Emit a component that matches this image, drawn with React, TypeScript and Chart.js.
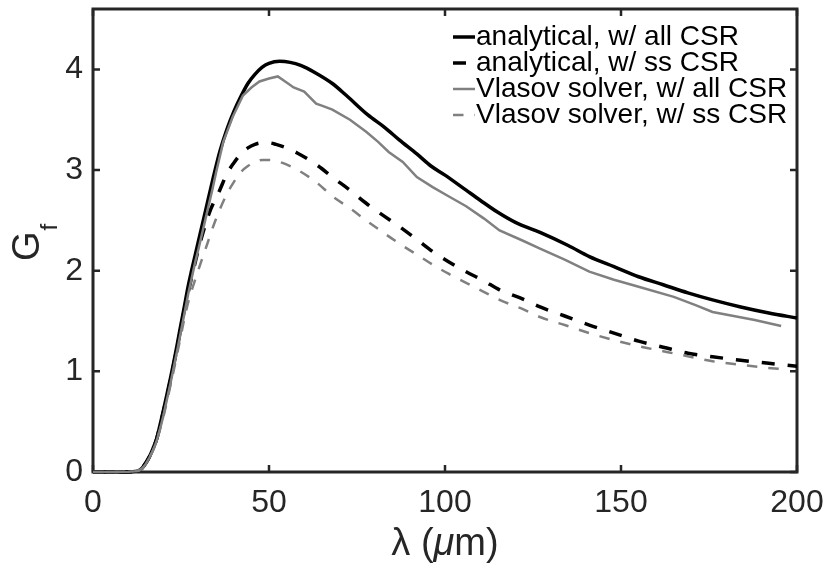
import React, { useEffect, useRef } from "react";
import { Chart, registerables } from "chart.js";

Chart.register(...registerables);

// ---- data ----
const X_TICKS = [0, 50, 100, 150, 200];
const Y_TICKS = [0, 1, 2, 3, 4];

const LABEL_A_ALL = "analytical, w/ all CSR";
const LABEL_A_SS = "analytical, w/ ss CSR";
const LABEL_V_ALL = "Vlasov solver, w/ all CSR";
const LABEL_V_SS = "Vlasov solver, w/ ss CSR";

const A_ALL_X = [0, 5, 10, 12, 13, 14, 15, 16, 17, 18, 19, 20, 21, 22, 23, 24, 25, 26, 27, 28, 29, 30, 32, 34, 36, 38, 40, 42, 44, 46, 48, 50, 53, 56, 59, 63, 68, 72, 78, 83, 87, 92, 96, 100, 106, 110, 115, 120, 127, 135, 141, 148, 155, 162, 169, 176, 184, 192, 200];
const A_ALL_Y = [0, 0, 0.002, 0.006, 0.015, 0.04, 0.09, 0.15, 0.23, 0.32, 0.46, 0.61, 0.77, 0.93, 1.1, 1.28, 1.47, 1.65, 1.84, 2.0, 2.15, 2.3, 2.6, 2.9, 3.18, 3.4, 3.58, 3.73, 3.86, 3.95, 4.02, 4.06, 4.08, 4.07, 4.04, 3.97, 3.86, 3.74, 3.55, 3.42, 3.3, 3.16, 3.04, 2.95, 2.8, 2.7, 2.58, 2.48, 2.38, 2.25, 2.14, 2.04, 1.94, 1.86, 1.78, 1.71, 1.64, 1.58, 1.53];

const A_SS_X = [0, 5, 10, 12, 13, 14, 15, 16, 17, 18, 19, 20, 21, 22, 23, 24, 25, 26, 27, 28, 30, 33, 36, 38, 40, 42, 44, 46, 48, 50, 52, 55, 58, 61, 64, 68, 73, 77.6, 82, 87, 92, 96.5, 101, 106, 111, 115.5, 122, 127, 134, 141, 148, 155, 162, 169, 176, 184, 192, 200];
const A_SS_Y = [0, 0, 0.002, 0.006, 0.015, 0.04, 0.09, 0.15, 0.23, 0.32, 0.45, 0.6, 0.75, 0.91, 1.08, 1.25, 1.44, 1.62, 1.78, 1.93, 2.22, 2.57, 2.8, 2.96, 3.07, 3.16, 3.22, 3.255, 3.27, 3.27, 3.255, 3.22, 3.17, 3.11, 3.04, 2.93, 2.8, 2.67, 2.56, 2.44, 2.31, 2.19, 2.09, 1.99, 1.9, 1.81, 1.72, 1.64, 1.55, 1.46, 1.38, 1.3, 1.24, 1.18, 1.145, 1.11, 1.08, 1.05];

const V_ALL_X = [0, 5, 10, 12, 13, 14, 15, 16, 17, 18, 19, 20, 21, 22, 23, 24, 25, 26, 27, 28, 29, 30, 32, 34, 35, 37, 39.7, 42.6, 45, 47.3, 50, 52.5, 55, 57, 60, 63.4, 65, 68, 73, 77.6, 81, 84, 88, 92, 96.5, 101, 106, 111, 115.5, 122, 127, 134, 141, 148, 155, 165, 171, 176, 182, 188, 195.5];
const V_ALL_Y = [0, 0, 0.003, 0.008, 0.015, 0.035, 0.08, 0.14, 0.21, 0.3, 0.42, 0.56, 0.72, 0.88, 1.05, 1.22, 1.4, 1.58, 1.76, 1.92, 2.08, 2.22, 2.52, 2.82, 2.98, 3.28, 3.53, 3.74, 3.82, 3.88, 3.91, 3.93, 3.87, 3.82, 3.78, 3.66, 3.64, 3.6, 3.5, 3.38, 3.28, 3.18, 3.08, 2.93, 2.83, 2.74, 2.64, 2.52, 2.4, 2.3, 2.22, 2.11, 1.99, 1.91, 1.84, 1.74, 1.66, 1.59, 1.55, 1.51, 1.45];

const V_SS_X = [0, 5, 10, 12, 13, 14, 15, 16, 17, 18, 19, 20, 21, 22, 23, 24, 25, 26, 27, 28, 29.3, 32.2, 35, 38, 40, 42, 44, 46, 48.2, 50, 53, 56, 58.7, 63.4, 68, 73, 77.6, 82, 87, 92, 96.5, 101, 106, 111, 115.5, 122, 127, 134, 141, 148, 155, 162, 169, 176, 184, 190, 197];
const V_SS_Y = [0, 0, 0.003, 0.008, 0.015, 0.035, 0.08, 0.14, 0.21, 0.3, 0.42, 0.55, 0.7, 0.86, 1.02, 1.19, 1.36, 1.53, 1.68, 1.8, 1.94, 2.24, 2.52, 2.76, 2.88, 2.98, 3.04, 3.08, 3.1, 3.1, 3.08, 3.04, 2.99, 2.88, 2.74, 2.62, 2.5, 2.39, 2.27, 2.16, 2.06, 1.97, 1.88, 1.79, 1.71, 1.62, 1.54, 1.46, 1.38, 1.31, 1.25, 1.2, 1.15, 1.1, 1.065, 1.04, 1.02];

const FONT = '"Liberation Sans", Arial, Helvetica, sans-serif';
const AXIS_COLOR = "#262626";
const GRAY = "#808080";

const pts = (xs: number[], ys: number[]) => xs.map((x, i) => ({ x, y: ys[i] }));

const framePlugin = {
  id: "frameTicks",
  beforeDatasetsDraw(chart: any) {
    const { ctx, chartArea: a, scales } = chart;
    ctx.save();
    ctx.strokeStyle = AXIS_COLOR;
    ctx.lineWidth = 3;
    ctx.strokeRect(a.left, a.top, a.right - a.left, a.bottom - a.top);
    ctx.lineWidth = 2.5;
    const tl = 7;
    ctx.beginPath();
    for (const v of X_TICKS) {
      const px = scales.x.getPixelForValue(v);
      ctx.moveTo(px, a.bottom);
      ctx.lineTo(px, a.bottom - tl);
      ctx.moveTo(px, a.top);
      ctx.lineTo(px, a.top + tl);
    }
    for (const v of Y_TICKS) {
      const py = scales.y.getPixelForValue(v);
      ctx.moveTo(a.left, py);
      ctx.lineTo(a.left + tl, py);
      ctx.moveTo(a.right, py);
      ctx.lineTo(a.right - tl, py);
    }
    ctx.stroke();
    ctx.restore();
  },
};

const textPlugin = {
  id: "titlesLegend",
  afterDraw(chart: any) {
    const { ctx, chartArea: a } = chart;
    ctx.save();
    // x title: λ (μm)
    const xc = (a.left + a.right) / 2;
    const base = 555;
    const parts: [string, string][] = [
      ["λ (", `38px ${FONT}`],
      ["μ", `italic 38px ${FONT}`],
      ["m)", `38px ${FONT}`],
    ];
    let total = 0;
    const widths = parts.map(([t, f]) => {
      ctx.font = f;
      const w = ctx.measureText(t).width;
      total += w;
      return w;
    });
    let cx = xc - total / 2;
    ctx.fillStyle = AXIS_COLOR;
    ctx.textBaseline = "alphabetic";
    ctx.textAlign = "left";
    parts.forEach(([t, f], i) => {
      ctx.font = f;
      ctx.fillText(t, cx, base);
      cx += widths[i];
    });

    // y title: G_f
    ctx.save();
    ctx.translate(39, 261);
    ctx.rotate(-Math.PI / 2);
    ctx.font = `38px ${FONT}`;
    ctx.fillText("G", 0, 0);
    const gw = ctx.measureText("G").width;
    ctx.font = `24px ${FONT}`;
    ctx.fillText("f", gw + 1, 18);
    ctx.restore();

    // legend
    const rows = chart.data.datasets;
    const lineX0 = a.right - 344;
    const lineX1 = a.right - 322;
    const textX = a.right - 321;
    const y0 = a.top + 28;
    const dy = 26;
    ctx.font = `28px ${FONT}`;
    ctx.textBaseline = "middle";
    rows.forEach((ds: any, i: number) => {
      const y = y0 + i * dy;
      ctx.save();
      ctx.strokeStyle = ds.borderColor;
      ctx.lineWidth = ds.borderWidth;
      ctx.setLineDash(ds.borderDash || []);
      ctx.beginPath();
      ctx.moveTo(lineX0, y);
      ctx.lineTo(lineX1, y);
      ctx.stroke();
      ctx.restore();
      ctx.fillStyle = "#000";
      ctx.fillText(ds.label, textX, y);
    });
    ctx.restore();
  },
};

export default function App() {
  const ref = useRef<HTMLCanvasElement | null>(null);
  useEffect(() => {
    if (!ref.current) return;
    const chart = new Chart(ref.current, {
      type: "line",
      data: {
        datasets: [
          {
            label: LABEL_A_ALL,
            data: pts(A_ALL_X, A_ALL_Y),
            borderColor: "#000000",
            borderWidth: 3.5,
            cubicInterpolationMode: "monotone",
            order: 3,
          },
          {
            label: LABEL_A_SS,
            data: pts(A_SS_X, A_SS_Y),
            borderColor: "#000000",
            borderWidth: 3.5,
            borderDash: [13, 13],
            cubicInterpolationMode: "monotone",
            order: 2,
          },
          {
            label: LABEL_V_ALL,
            data: pts(V_ALL_X, V_ALL_Y),
            borderColor: GRAY,
            borderWidth: 2.5,
            tension: 0,
            order: 1,
          },
          {
            label: LABEL_V_SS,
            data: pts(V_SS_X, V_SS_Y),
            borderColor: GRAY,
            borderWidth: 2.5,
            borderDash: [10.5, 11],
            cubicInterpolationMode: "monotone",
            order: 0,
          },
        ] as any,
      },
      options: {
        animation: false,
        responsive: true,
        maintainAspectRatio: false,
        clip: false as any,
        elements: { point: { radius: 0 } },
        layout: { padding: { top: 9, right: 30, left: 0, bottom: 0 } },
        plugins: { legend: { display: false }, tooltip: { enabled: false } },
        scales: {
          x: {
            type: "linear",
            min: 0,
            max: 200,
            grid: { display: false, drawTicks: false },
            border: { display: false },
            ticks: {
              stepSize: 50,
              includeBounds: false,
              padding: 12,
              color: AXIS_COLOR,
              font: { family: FONT, size: 32 },
              maxRotation: 0,
            },
            afterFit: (s: any) => {
              s.height = 93;
              s.paddingLeft = 0;
              s.paddingRight = 0;
            },
          },
          y: {
            type: "linear",
            min: 0,
            max: 4.6,
            grid: { display: false, drawTicks: false },
            border: { display: false },
            ticks: {
              stepSize: 1,
              includeBounds: false,
              padding: 10,
              color: AXIS_COLOR,
              font: { family: FONT, size: 32 },
            },
            afterFit: (s: any) => {
              s.width = 93;
              s.paddingTop = 0;
              s.paddingBottom = 0;
            },
          },
        },
      },
      plugins: [framePlugin, textPlugin],
    });
    return () => chart.destroy();
  }, []);
  return (
    <div style={{ position: "absolute", left: 0, top: 0, width: 827, height: 565 }}>
      <canvas ref={ref} />
    </div>
  );
}
